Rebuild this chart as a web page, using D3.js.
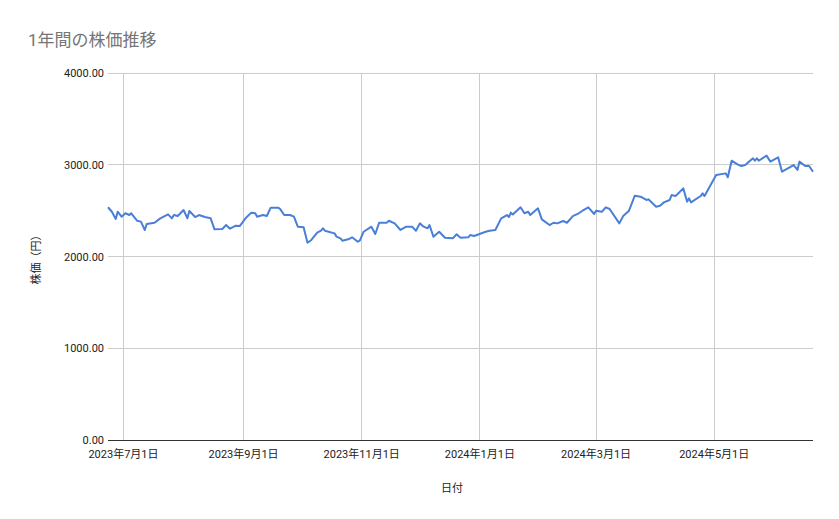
<!DOCTYPE html>
<html>
<head>
<meta charset="utf-8">
<script src="https://cdn.jsdelivr.net/npm/d3@7"></script>
<style>
body { margin: 0; background: #fff; }
text { font-family: Roboto, "Noto Sans CJK JP", sans-serif; }
</style>
</head>
<body>
<div id="mainDiv"></div>
<script>
// days counted from 2023-07-01, price in yen
var dayOffsets = [-8,-6,-4,-3,-1,1,3,4,7,9,11,12,16,19,23,25,26,28,31,33,34,37,39,42,45,47,51,53,55,58,60,63,66,68,69,72,74,76,80,81,83,86,88,90,93,95,97,100,102,103,104,109,110,
  112,113,116,118,121,122,124,128,130,132,136,137,140,143,146,149,151,153,155,157,158,160,163,166,170,172,174,178,179,181,187,189,192,195,198,199,200,201,205,207,209,210,214,216,220,222,224,227,229,232,235,
  237,240,243,244,247,249,251,256,258,261,264,267,270,271,275,277,279,282,283,285,286,289,291,292,293,298,299,300,306,311,312,314,317,319,321,325,326,327,328,332,334,338,340,346,348,349,352,354,356];
var prices = [2537,2488,2409,2488,2434,2471,2452,2471,2390,2380,2289,2354,2368,2416,2459,2416,2452,2441,2507,2416,2496,2430,2452,2430,2416,2296,2300,2343,2303,2336,2332,2416,2478,2471,2434,2452,2441,2532,2532,2514,2452,2452,2434,2325,2318,2150,2180,2260,2281,2307,2281,2252,2216,
  2198,2172,2187,2209,2161,2172,2270,2325,2245,2369,2369,2390,2361,2289,2325,2325,2281,2361,2325,2307,2343,2216,2270,2205,2198,2242,2205,2209,2234,2223,2270,2281,2289,2416,2452,2430,2478,2459,2536,2471,2488,2452,2525,2405,2343,2368,2361,2387,2368,2441,2471,
  2499,2536,2463,2499,2488,2536,2518,2361,2441,2499,2663,2652,2616,2623,2543,2554,2590,2616,2670,2659,2678,2743,2598,2634,2590,2659,2688,2659,2888,2906,2863,3044,3005,2986,2997,3070,3044,3070,3044,3099,3034,3081,2924,2997,2943,3034,2986,2986,2924];
var tickDates = ["2023-07-01","2023-09-01","2023-11-01","2024-01-01","2024-03-01","2024-05-01"];
var yTicks = [0, 1000, 2000, 3000, 4000];

var base = new Date(2023, 6, 1);
var data = dayOffsets.map(function(d, i){ return {date: d3.timeDay.offset(base, d), value: prices[i]}; });

var svg = d3.select("#mainDiv").append("svg")
  .attr("width", 839).attr("height", 519);

var plotLeft = 108, plotRight = 813, plotTop = 73, plotBottom = 440;
var x = d3.scaleTime()
  .domain([d3.timeDay.offset(base, -8), d3.timeDay.offset(base, 356)])
  .range([plotLeft, plotRight]);
var y = d3.scaleLinear().domain([0, 4000]).range([plotBottom, plotTop]);

var parse = d3.timeParse("%Y-%m-%d");
var ticks = tickDates.map(parse);

svg.append("g").selectAll("line").data(ticks).enter().append("line")
  .attr("x1", function(d){ return x(d); }).attr("x2", function(d){ return x(d); })
  .attr("y1", plotTop).attr("y2", plotBottom)
  .attr("stroke", "#cccccc").attr("shape-rendering", "crispEdges");

svg.append("g").selectAll("line").data(yTicks).enter().append("line")
  .attr("x1", plotLeft).attr("x2", plotRight)
  .attr("y1", function(d){ return y(d); }).attr("y2", function(d){ return y(d); })
  .attr("stroke", function(d){ return d == 0 ? "#333" : "#cccccc"; })
  .attr("stroke-width", 1).attr("shape-rendering", "crispEdges");

svg.append("g").selectAll("text").data(yTicks).enter().append("text")
  .attr("x", plotLeft - 4).attr("y", function(d){ return y(d) + 4; })
  .attr("text-anchor", "end").attr("font-size", "11px").attr("fill", "#222")
  .text(function(d){ return d.toFixed(2); });

svg.append("g").selectAll("text").data(ticks).enter().append("text")
  .attr("x", function(d){ return x(d); }).attr("y", plotBottom + 18)
  .attr("text-anchor", "middle").attr("font-size", "11px").attr("fill", "#222")
  .text(function(d){ return d.getFullYear() + "年" + (d.getMonth() + 1) + "月" + d.getDate() + "日"; });

var line = d3.line()
  .x(function(d){ return x(d.date); })
  .y(function(d){ return y(d.value); });

svg.append("path").datum(data)
  .attr("d", line)
  .attr("fill", "none")
  .attr("stroke", "#4a7fd8")
  .attr("stroke-width", 2)
  .attr("stroke-linejoin", "round");

svg.append("text").attr("x", 28).attr("y", 46)
  .attr("font-size", "17px").attr("fill", "#757575")
  .text("1年間の株価推移");

svg.append("text").attr("x", 452).attr("y", 492)
  .attr("text-anchor", "middle").attr("font-size", "11px").attr("fill", "#222")
  .text("日付");

svg.append("text")
  .attr("transform", "translate(40,257) rotate(-90)")
  .attr("text-anchor", "middle").attr("font-size", "11px").attr("fill", "#222")
  .text("株価（円）");
</script>
</body>
</html>
